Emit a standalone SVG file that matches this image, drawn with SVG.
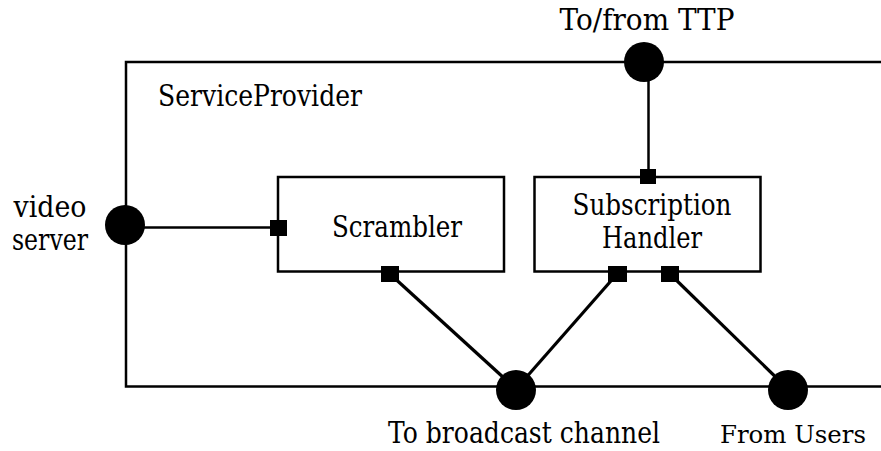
<svg xmlns="http://www.w3.org/2000/svg" width="881" height="451" viewBox="0 0 881 451">
<style>
text{font-family:'DejaVu Serif','Liberation Serif',serif;font-size:29px;fill:#000}
.m{text-anchor:middle}
.box{fill:#fff;stroke:#000;stroke-width:2.5}
.ln{stroke:#000;stroke-width:2.5;fill:none}
.dg{stroke:#000;stroke-width:3.2;fill:none}
.port{fill:#000}
.gate{fill:#000}
</style>
<rect width="881" height="451" fill="#fff"/>
<g id="ServiceProvider">
<path class="ln" d="M881,62 H126 V386.5 H881"/>
<text x="158" y="106" textLength="204" lengthAdjust="spacingAndGlyphs">ServiceProvider</text>
</g>
<g id="connectors">
<line class="ln" x1="125" y1="227.5" x2="278" y2="227.5"/>
<line class="ln" x1="648.5" y1="62" x2="648.5" y2="176"/>
<line class="dg" x1="390" y1="274" x2="516" y2="389"/>
<line class="dg" x1="617" y1="274" x2="516" y2="389"/>
<line class="dg" x1="670" y1="274" x2="788" y2="389"/>
</g>
<g id="Scrambler">
<rect class="box" x="278" y="177" width="226" height="94.5"/>
<text class="m" x="397" y="237" textLength="130" lengthAdjust="spacingAndGlyphs">Scrambler</text>
<rect class="port" x="270" y="220" width="17" height="16"/>
<rect class="port" x="381" y="266" width="18" height="16"/>
</g>
<g id="SubscriptionHandler">
<rect class="box" x="534.5" y="177" width="226" height="94.5"/>
<text class="m" x="652" y="215" textLength="159" lengthAdjust="spacingAndGlyphs">Subscription</text>
<text class="m" x="652" y="248" textLength="100" lengthAdjust="spacingAndGlyphs">Handler</text>
<rect class="port" x="640" y="169" width="16" height="15"/>
<rect class="port" x="608" y="266" width="19" height="16"/>
<rect class="port" x="661" y="266" width="18" height="16"/>
</g>
<g id="TTP">
<circle class="gate" cx="644" cy="62" r="20"/>
<text class="m" x="647" y="30" textLength="175" lengthAdjust="spacingAndGlyphs">To/from TTP</text>
</g>
<g id="videoServer">
<circle class="gate" cx="125" cy="225" r="20"/>
<text class="m" x="50" y="217" textLength="73" lengthAdjust="spacingAndGlyphs">video</text>
<text class="m" x="50" y="250" textLength="76" lengthAdjust="spacingAndGlyphs">server</text>
</g>
<g id="broadcast">
<circle class="gate" cx="516" cy="390" r="20"/>
<text x="388" y="443" textLength="272" lengthAdjust="spacingAndGlyphs">To broadcast channel</text>
</g>
<g id="users">
<circle class="gate" cx="788" cy="390" r="20"/>
<text x="720" y="443" style="font-size:25px" textLength="146" lengthAdjust="spacingAndGlyphs">From Users</text>
</g>
</svg>
